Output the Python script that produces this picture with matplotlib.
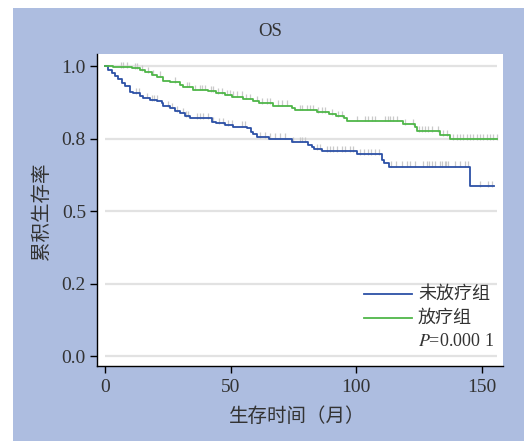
import numpy as np
import matplotlib
matplotlib.use("Agg")
import matplotlib.pyplot as plt
from matplotlib.patches import Rectangle

plt.rcParams['mathtext.fontset'] = 'stix'

# ---------------- data ----------------
groups = ["未放疗组", "放疗组"]

blue_t = [0, 1.3, 2.7, 4.0, 5.3, 6.6, 8.0, 9.9, 11.3, 13.9, 15.2, 17.9, 20.6, 22.6, 23.2,
          25.9, 27.9, 29.8, 31.8, 33.8, 42.5, 44.2, 47.8, 51.1, 56.4, 58.0, 59.0, 60.6,
          65.4, 74.3, 80.9, 82.2, 83.3, 86.2, 100.2, 110.1, 111.0, 113.1, 145.2]
blue_s = [1.0, 0.988, 0.978, 0.967, 0.957, 0.944, 0.933, 0.913, 0.907, 0.898, 0.892, 0.884,
          0.882, 0.873, 0.863, 0.857, 0.845, 0.840, 0.829, 0.821, 0.809, 0.804, 0.798,
          0.792, 0.787, 0.775, 0.766, 0.756, 0.751, 0.740, 0.729, 0.721, 0.715, 0.708,
          0.697, 0.677, 0.666, 0.654, 0.587]
blue_end = 154.8
blue_cens = [12.3, 13.7, 16.6, 18.5, 19.5, 20.8, 25.2, 26.5, 28.5, 31.2, 32.2, 33.1, 36.5,
             37.8, 39.1, 41.1, 43.1, 45.5, 46.8, 49.1, 50.4, 54.4, 55.7, 61.7, 63.7, 65.7,
             67.6, 69.6, 71.6, 74.9, 77.6, 78.3, 79.6, 84.2, 85.6, 88.2, 89.5, 90.8, 92.2,
             94.2, 95.5, 97.5, 98.8, 101.5, 103.0, 104.5, 106.0, 107.5, 109.0, 114.0, 116.0,
             118.1, 120.1, 121.4, 123.4, 126.7, 128.0, 129.1, 130.0, 131.3, 133.3, 134.0,
             135.3, 135.9, 136.6, 139.3, 141.3, 143.3, 144.6, 149.2, 152.5, 153.9]

green_t = [0, 3.3, 10.6, 13.9, 15.9, 18.6, 20.6, 23.2, 25.9, 29.8, 31.2, 35.1, 41.1, 44.2,
           47.8, 50.4, 55.0, 59.0, 61.4, 66.9, 74.3, 75.6, 84.2, 89.3, 91.9, 95.2, 96.2,
           118.5, 123.4, 124.3, 133.3, 137.3]
green_s = [1.0, 0.997, 0.993, 0.988, 0.981, 0.971, 0.965, 0.951, 0.946, 0.936, 0.930, 0.919,
           0.915, 0.907, 0.902, 0.896, 0.888, 0.881, 0.873, 0.865, 0.858, 0.850, 0.842,
           0.836, 0.829, 0.821, 0.812, 0.801, 0.790, 0.777, 0.763, 0.749]
green_end = 155.9
green_cens = [6.2, 7.3, 8.6, 11.9, 12.6, 14.6, 17.2, 19.2, 21.9, 27.9, 32.5, 33.5, 35.8,
              37.8, 38.5, 39.8, 42.2, 43.1, 45.1, 46.4, 48.4, 49.7, 51.1, 52.4, 54.4, 56.3,
              57.7, 60.4, 62.4, 64.3, 65.7, 69.0, 70.3, 72.3, 77.6, 78.3, 80.2, 81.5, 82.9,
              84.9, 86.2, 87.5, 90.3, 92.8, 94.2, 100.2, 103.5, 104.8, 106.1, 107.4, 111.4,
              112.7, 113.4, 114.7, 116.1, 119.4, 122.7, 125.0, 126.0, 127.3, 128.7, 130.0,
              132.6, 134.6, 136.0, 138.6, 139.9, 141.3, 142.6, 143.9, 145.2, 146.6, 147.9,
              149.2, 150.5, 151.9, 153.2, 154.5, 155.9]

x_ticks = [0, 50, 100, 150]
y_ticks = [0.0, 0.25, 0.5, 0.75, 1.0]
y_tick_labels = ["0.0", "0.2", "0.5", "0.8", "1.0"]
p_text = r"$\mathit{P}$=0.000 1"
title = "OS"
xlabel = "生存时间（月）"
ylabel = "累积生存率"

# ---------------- style ----------------
BG = "#adbde0"
BLUE = "#2c50a6"
GREEN = "#4fb649"
CENS = "#c9c9c9"
TXT = "#333333"
SERIF = ["Liberation Serif", "DejaVu Serif"]
CJK = ["Noto Sans CJK SC", "DejaVu Sans"]

W, H = 524, 441
fig = plt.figure(figsize=(W / 100, H / 100), dpi=100, facecolor="white")
bg = Rectangle((13 / W, 0), 1 - 13 / W, (H - 8) / H, transform=fig.transFigure,
               facecolor=BG, edgecolor="none", zorder=-10)
fig.add_artist(bg)

ax = fig.add_axes([97 / W, (H - 366) / H, (503 - 97) / W, (366 - 54) / H])
ax.set_zorder(1)
ax.set_facecolor("white")
ax.set_xlim(-3.2, 158.4)
ax.set_ylim(-0.0345, 1.043)

for sp in ["top", "right"]:
    ax.spines[sp].set_visible(False)
for sp in ["left", "bottom"]:
    ax.spines[sp].set_linewidth(1.0)
    ax.spines[sp].set_color("black")

# gridlines
ax.hlines(y_ticks, 0, 156, colors="#e2e2e2", linewidth=1.6, zorder=1)


def draw_group(t, s, end, cens, color):
    tt = list(t) + [end]
    ss = list(s) + [s[-1]]
    ax.step(tt, ss, where="post", color=color, linewidth=1.3, zorder=3)
    idx = np.searchsorted(np.array(t), np.array(cens), side="right") - 1
    cs = np.array(s)[idx]
    ax.vlines(cens, cs - 0.002, cs + 0.018, colors=CENS, linewidth=0.9, zorder=2)


draw_group(blue_t, blue_s, blue_end, blue_cens, BLUE)
draw_group(green_t, green_s, green_end, green_cens, GREEN)

ax.set_xticks(x_ticks)
ax.set_xticklabels([str(v) for v in x_ticks])
ax.set_yticks(y_ticks)
ax.set_yticklabels(y_tick_labels)
ax.tick_params(axis="both", direction="out", length=5, width=1.0, colors="black",
               labelcolor=TXT, labelsize=14)
ax.tick_params(axis="y", pad=3)
ax.tick_params(axis="x", pad=4)
for lab in ax.get_xticklabels() + ax.get_yticklabels():
    lab.set_family(SERIF)

# legend (manual, in axes coordinates)
lx0, lx1, tx = (364 - 97) / 406, (412 - 97) / 406, (418 - 97) / 406
for yy, col, lab in [((366 - 294) / 312, BLUE, groups[0]), ((366 - 318) / 312, GREEN, groups[1])]:
    ax.plot([lx0, lx1], [yy, yy], color=col, linewidth=1.3, transform=ax.transAxes)
    ax.text(tx, yy, lab, transform=ax.transAxes, va="center", ha="left", fontsize=13,
            family=CJK, color=TXT)
ax.text(tx, (366 - 342) / 312, p_text, transform=ax.transAxes, va="center", ha="left",
        fontsize=13, family=SERIF, color=TXT)

fig.text(270 / W, 1 - 32 / H, title, ha="center", va="center", fontsize=13.5, family=SERIF,
         color=TXT)
fig.text(297 / W, 1 - 417 / H, xlabel, ha="center", va="center", fontsize=14, family=CJK,
         color=TXT)
fig.text(41 / W, 1 - 211 / H, ylabel, ha="center", va="center", rotation=90, fontsize=14,
         family=CJK, color=TXT)

fig.savefig("out.png", dpi=100, facecolor="white")
